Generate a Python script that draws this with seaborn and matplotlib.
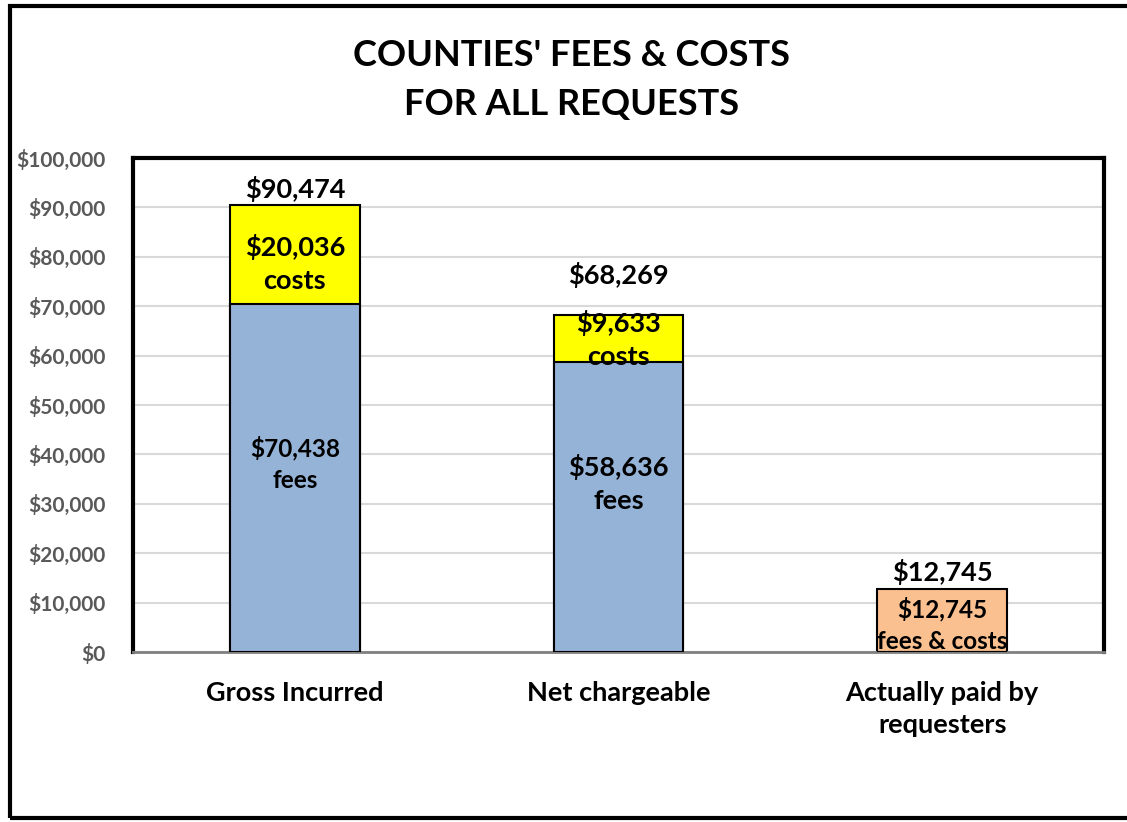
import matplotlib
matplotlib.use("Agg")
import matplotlib.pyplot as plt
import matplotlib.patches as patches
from matplotlib.ticker import FuncFormatter
import seaborn as sns
import pandas as pd

# data
categories = ["Gross Incurred", "Net chargeable", "Actually paid by\nrequesters"]
fees = [70438, 58636, 0]
costs = [20036, 9633, 0]
fees_and_costs = [0, 0, 12745]
totals = [f + c + fc for f, c, fc in zip(fees, costs, fees_and_costs)]

sns.set_theme(style="white")
plt.rcParams["font.family"] = ["Lato", "DejaVu Sans"]
plt.rcParams["font.weight"] = "bold"

df = pd.DataFrame({"cat": categories, "fees": fees, "total": totals})

fig = plt.figure(figsize=(11.27, 8.22), dpi=100)
ax = fig.add_axes([0.118, 0.2068, 0.8616, 0.601])

top_colors = ["#FFFF00", "#FFFF00", "#FAC090"]
sns.barplot(data=df, x="cat", y="total", hue="cat", palette=top_colors,
            saturation=1, width=0.4, edgecolor="black", linewidth=1.5,
            legend=False, ax=ax, zorder=2)
sns.barplot(data=df, x="cat", y="fees", hue="cat",
            palette=["#95B3D7"] * 3, saturation=1, width=0.4,
            edgecolor="black", linewidth=1.5, legend=False, ax=ax, zorder=3)

ax.set_ylim(0, 100000)
ax.set_yticks(range(0, 100001, 10000))
ax.yaxis.set_major_formatter(FuncFormatter(lambda v, p: f"${v:,.0f}"))
ax.grid(axis="y", color="#D9D9D9", linewidth=1.5, zorder=0)
ax.set_axisbelow(True)
ax.set_xlabel("")
ax.set_ylabel("")

for s in ["top", "left", "right"]:
    ax.spines[s].set_color("black")
    ax.spines[s].set_linewidth(3)
ax.spines["bottom"].set_color("#808080")
ax.spines["bottom"].set_linewidth(2)

ax.tick_params(axis="y", length=0, pad=20, labelsize=15, labelcolor="#595959")
ax.tick_params(axis="x", length=0, pad=21, labelsize=19.5, labelcolor="black")
for t in ax.get_yticklabels():
    t.set_fontweight("bold")
for t in ax.get_xticklabels():
    t.set_fontweight("bold")
    t.set_linespacing(1.4)

lbl = dict(ha="center", va="center", fontsize=19.5, fontweight="bold",
           color="black", linespacing=1.45, zorder=5)

# totals above the bars
ax.text(0, totals[0] + 3300, f"${totals[0]:,}", **lbl)
ax.text(1, totals[1] + 8000, f"${totals[1]:,}", **lbl)
ax.text(2, totals[2] + 3400, f"${totals[2]:,}", **lbl)

# segment labels
ax.text(0, 78600, f"${costs[0]:,}\ncosts", **lbl)
ax.text(0, 38000, f"${fees[0]:,}\nfees", **dict(lbl, fontsize=17.5))
ax.text(1, 63300, f"${costs[1]:,}\ncosts", **lbl)
ax.text(1, 34200, f"${fees[1]:,}\nfees", **lbl)
ax.text(2, 5400, f"${fees_and_costs[2]:,}\nfees & costs", **dict(lbl, fontsize=17.5))

fig.text(0.5075, 0.903, "COUNTIES' FEES & COSTS\nFOR ALL REQUESTS", ha="center",
         va="center", fontsize=26, fontweight="bold", color="black",
         linespacing=1.6)

fig.patches.append(patches.Rectangle((0.009, 0.005), 1.2, 0.988, fill=False,
                                     edgecolor="black", linewidth=3,
                                     transform=fig.transFigure))

fig.savefig("out.png", dpi=100)
